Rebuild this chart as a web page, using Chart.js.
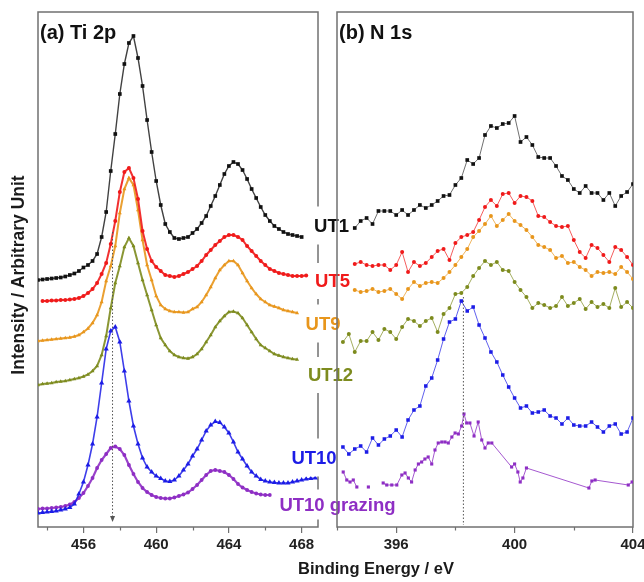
<!DOCTYPE html>
<html>
<head>
<meta charset="utf-8">
<script src="https://cdn.jsdelivr.net/npm/chart.js@4.4.1/dist/chart.umd.min.js"></script>
<style>
  html, body { margin: 0; padding: 0; background: #ffffff; }
  #wrap { position: relative; width: 644px; height: 582px; }
  #wrap canvas { position: absolute; left: 0; top: 0; }
</style>
</head>
<body>
<div id="wrap">
  <canvas id="tiPanel" width="644" height="582"></canvas>
  <canvas id="nPanel" width="644" height="582"></canvas>
</div>
<script>
// ---- Sample names and colours ----
const SAMPLES = ['UT1', 'UT5', 'UT9', 'UT12', 'UT10', 'UT10 grazing'];
const COLORS  = ['#111111', '#f01a1a', '#e8961c', '#7d8b1e', '#1c1ce6', '#8e2ec4'];

// ---- Ti 2p spectra (binding energy in eV, intensity in arbitrary units, offset per sample) ----
const TI_E = [453.5,453.75,454,454.25,454.5,454.75,455,455.25,455.5,455.75,
  456,456.25,456.5,456.75,457,457.25,457.5,457.75,458,458.25,
  458.5,458.75,459,459.25,459.5,459.75,460,460.25,460.5,460.75,
  461,461.25,461.5,461.75,462,462.25,462.5,462.75,463,463.25,
  463.5,463.75,464,464.25,464.5,464.75,465,465.25,465.5,465.75,
  466,466.25,466.5,466.75,467,467.25,467.5,467.75,468,468.25,
  468.5,468.75];

const TI_UT1 = [49.4,49.5,49.6,49.7,49.8,49.9,50.1,50.4,50.7,51.2,
  51.9,52.4,53.2,54.6,58.0,63.0,71.2,78.6,86.6,92.6,
  96.8,98.2,93.8,88.2,81.4,75.0,69.2,64.4,60.6,59.0,
  57.8,57.6,57.8,58.0,58.8,59.6,60.8,62.2,64.2,66.2,
  68.4,70.6,72.2,73.0,72.6,71.4,69.6,67.6,65.8,64.0,
  62.4,61.2,60.2,59.6,59.0,58.6,58.4,58.2,58.0,null,
  null,null];

const TI_UT5 = [null,45.2,45.2,45.3,45.3,45.4,45.4,45.5,45.6,45.8,
  46.2,46.8,47.6,48.8,50.6,52.8,56.6,61.2,67.0,71.0,
  71.8,69.8,65.6,59.2,55.6,53.2,52.0,51.2,50.4,50.2,
  50.0,50.2,50.6,51.0,51.6,52.2,53.2,54.4,55.4,56.4,
  57.2,58.0,58.4,58.4,58.0,57.4,56.2,55.2,54.2,53.2,
  52.4,51.6,51.2,50.8,50.6,50.4,50.2,50.2,50.2,50.3,
  null,null];

const TI_UT9 = [37.2,37.3,37.4,37.5,37.6,37.7,37.8,37.9,38.1,38.4,
  39.0,39.7,40.8,42.4,45.0,49.2,52.2,56.2,62.8,67.6,
  69.8,68.4,63.4,57.4,52.4,49.4,46.2,44.4,43.6,43.2,
  43.0,43.0,42.9,43.0,43.6,44.0,45.0,46.4,48.0,49.8,
  51.4,52.4,53.2,53.2,52.4,50.8,49.2,47.8,46.6,45.6,
  45.0,44.4,44.1,43.8,43.4,43.2,43.0,42.8,null,null,
  null,null];

const TI_UT12 = [28.4,28.6,28.7,28.8,29.0,29.1,29.2,29.4,29.6,29.8,
  30.1,30.5,31.2,32.2,34.4,38.2,43.8,48.8,52.2,56.0,
  57.8,56.2,52.8,49.4,46.4,43.4,40.4,37.8,36.4,35.2,
  34.4,34.0,33.8,33.7,34.0,34.6,35.6,37.0,38.4,40.0,
  41.2,42.2,43.0,43.1,42.8,41.8,40.4,39.0,37.6,36.4,
  35.8,35.2,34.6,34.3,34.0,33.8,33.6,33.5,null,null,
  null,null];

const TI_UT10 = [2.8,2.9,3.0,3.1,3.2,3.4,3.6,3.9,4.6,6.6,
  9.0,12.4,16.6,22.0,28.8,35.6,39.2,40.0,37.0,31.2,
  25.2,20.2,16.6,13.8,12.0,11.0,10.2,9.7,9.2,9.1,
  9.4,10.2,11.4,12.6,14.2,15.6,17.4,19.2,20.4,21.1,
  20.9,20.0,18.8,17.0,15.0,13.6,12.2,11.0,10.2,9.5,
  9.2,9.0,8.9,8.8,8.8,8.8,9.0,9.2,9.4,9.6,
  9.7,9.8];

const TI_UT10G = [3.6,3.7,3.7,3.8,3.9,4.0,4.2,4.5,5.0,5.8,
  6.8,8.2,9.8,11.8,13.4,14.6,15.8,16.1,15.6,14.4,
  12.4,10.6,9.0,7.8,7.0,6.4,6.0,5.8,5.7,5.7,
  5.9,6.2,6.5,6.9,7.6,8.4,9.4,10.4,11.2,11.4,
  11.2,11.0,10.4,9.6,8.6,7.9,7.4,7.0,6.7,6.5,
  6.4,6.4,null,null,null,null,null,null,null,null,
  null,null];

// ---- N 1s spectra ----
const N_E = [394.2,394.4,394.6,394.8,395.0,395.2,395.4,395.6,395.8,396.0,
  396.2,396.4,396.6,396.8,397.0,397.2,397.4,397.6,397.8,398.0,
  398.2,398.4,398.6,398.8,399.0,399.2,399.4,399.6,399.8,400.0,
  400.2,400.4,400.6,400.8,401.0,401.2,401.4,401.6,401.8,402.0,
  402.2,402.4,402.6,402.8,403.0,403.2,403.4,403.6,403.8,404.0];

const N_UT1 = [null,null,59.8,61.2,61.8,60.6,63.2,63.2,63.2,62.4,
  63.4,62.4,63.4,64.4,63.8,64.4,65.2,66.2,66.4,68.4,
  69.8,73.4,72.6,73.8,78.4,80.2,79.8,80.6,80.8,82.2,
  77.0,78.0,76.4,74.0,73.8,73.8,72.2,70.2,69.4,67.6,
  66.8,68.2,66.8,66.8,65.4,66.8,64.2,66.2,67.0,68.6];

const N_UT5 = [null,null,52.6,53.0,52.4,52.2,52.4,52.4,51.4,52.4,
  55.0,51.0,53.0,52.2,52.8,54.0,55.2,55.6,53.4,56.8,
  58.0,58.4,59.0,61.4,64.0,65.4,64.2,66.6,66.8,64.8,
  66.2,66.0,65.2,62.2,62.0,61.0,60.2,60.0,60.2,57.4,
  55.0,53.8,56.4,55.8,54.4,53.0,56.0,55.4,54.0,52.4];

const N_UT9 = [null,null,47.4,47.0,47.2,47.6,47.0,47.2,47.6,46.6,
  45.6,47.6,49.0,48.2,48.8,49.0,48.8,49.8,51.0,52.4,
  54.0,55.6,58.0,59.2,60.6,62.2,60.2,61.4,62.6,61.2,
  60.4,59.4,58.0,56.4,56.0,55.4,53.8,54.2,52.8,53.0,
  52.0,51.4,50.2,51.0,50.8,51.0,50.6,52.0,51.0,49.6];

const N_UT12 = [37.0,38.6,35.0,37.2,37.2,39.0,37.4,39.6,39.0,37.6,
  40.0,41.6,41.2,40.2,41.2,41.8,39.0,42.6,43.8,46.6,
  46.8,48.0,50.2,51.8,53.2,52.4,53.0,51.4,51.2,49.0,
  47.4,46.0,43.8,44.8,44.4,43.8,44.2,46.0,44.2,44.8,
  45.6,43.6,45.0,44.0,44.6,43.8,47.8,44.0,45.0,43.8];

const N_UT10 = [16.0,14.6,15.6,16.2,15.0,17.8,16.4,17.6,18.2,19.4,
  18.0,21.4,23.4,24.2,28.2,29.8,33.4,37.6,41.0,41.6,
  45.2,43.2,44.0,40.4,37.8,35.0,33.0,30.4,28.0,25.8,
  23.8,24.2,22.8,23.0,23.4,22.2,21.8,20.6,21.8,20.4,
  20.2,20.2,21.0,20.0,19.0,20.2,20.6,18.6,19.0,21.8];

// grazing-angle N 1s scan has its own energies (with gaps in the record)
const N_UT10G_E = [394.21,394.33,394.44,394.55,394.67,394.85,395.06,395.3,395.56,395.68,
  395.85,396.02,396.19,396.3,396.41,396.52,396.64,396.75,396.86,396.97,
  397.08,397.2,397.31,397.42,397.54,397.65,397.76,397.88,397.99,398.1,
  398.21,398.29,398.38,398.49,398.63,398.77,398.89,399.0,399.11,399.23,
  399.9,400.0,400.11,400.19,400.28,400.4,402.51,402.61,402.72,403.84,
  403.97];
const N_UT10G = [11.0,9.4,9.0,9.4,8.0,null,8.0,null,8.8,8.4,
  8.4,8.4,10.4,10.8,9.8,9.0,11.4,12.6,13.0,13.6,
  14.0,12.6,15.4,16.8,17.0,17.0,16.8,18.0,18.8,18.6,
  20.2,22.6,20.8,20.8,18.2,21.0,17.4,15.8,16.8,16.8,
  12.0,12.6,11.0,9.0,9.8,11.8,7.8,9.2,9.4,8.4,
  9.0];

// ---- Axis ticks and reference energies ----
const TI_MAJOR = [456, 460, 464, 468];
const TI_MINOR = [454, 458, 462, 466];
const N_MAJOR = [396, 400, 404];
const N_MINOR = [394, 398, 402];
const TI_REF_E = 457.6;     // Ti 2p3/2 position of UT10
const N_REF_E = 398.27;     // N 1s position of UT10

// ---- Styling ----
const FONT = "'Liberation Sans', Arial, sans-serif";
const FRAME = '#707070';
Chart.defaults.font.family = FONT;

function pts(xs, ys) { return xs.map((x, i) => ({ x: x, y: ys[i] })); }
function fade(hex, a) {
  const n = parseInt(hex.slice(1), 16);
  return 'rgba(' + (n >> 16) + ',' + ((n >> 8) & 255) + ',' + (n & 255) + ',' + a + ')';
}
function series(xs, ys, idx, style, radius, lineWidth, lineAlpha) {
  return {
    label: SAMPLES[idx],
    data: pts(xs, ys),
    borderColor: fade(COLORS[idx], lineAlpha),
    borderWidth: lineWidth,
    backgroundColor: COLORS[idx],
    pointStyle: style,
    pointRadius: radius,
    pointBorderWidth: 0,
    pointBackgroundColor: COLORS[idx],
    tension: 0,
    spanGaps: false
  };
}

// the Ti 2p scans are densely sampled, so their traces read as thicker lines
const tiSets = [
  series(TI_E, TI_UT1, 0, 'rect', 2.6, 1.4, 0.8),
  series(TI_E, TI_UT5, 1, 'circle', 2.0, 2.0, 0.9),
  series(TI_E, TI_UT9, 2, 'triangle', 2.3, 2.0, 0.9),
  series(TI_E, TI_UT12, 3, 'triangle', 2.3, 2.0, 0.9),
  series(TI_E, TI_UT10, 4, 'triangle', 3.0, 1.6, 0.85),
  series(TI_E, TI_UT10G, 5, 'circle', 1.9, 2.2, 0.9)
];
const nSets = [
  series(N_E, N_UT1, 0, 'rect', 2.6, 1, 0.6),
  series(N_E, N_UT5, 1, 'circle', 2.0, 1, 0.7),
  series(N_E, N_UT9, 2, 'circle', 2.0, 1, 0.7),
  series(N_E, N_UT12, 3, 'circle', 2.0, 1, 0.7),
  series(N_E, N_UT10, 4, 'rect', 2.5, 1, 0.7),
  series(N_UT10G_E, N_UT10G, 5, 'rect', 2.2, 1, 0.8)
];

// frame around the plot area plus short minor ticks
function framePlugin(minor) {
  return {
    id: 'panelFrame',
    beforeDatasetsDraw(chart) {
      const { ctx, chartArea: a, scales } = chart;
      ctx.save();
      ctx.strokeStyle = FRAME;
      ctx.lineWidth = 1.5;
      ctx.strokeRect(a.left, a.top, a.right - a.left, a.bottom - a.top);
      ctx.lineWidth = 1.2;
      ctx.beginPath();
      minor.forEach(v => {
        const x = Math.round(scales.x.getPixelForValue(v)) + 0.5;
        ctx.moveTo(x, a.bottom);
        ctx.lineTo(x, a.bottom + 3.5);
      });
      ctx.stroke();
      ctx.restore();
    }
  };
}

// dotted vertical marker at a peak position
function refLinePlugin(energy, vTop, vBottom, arrow) {
  return {
    id: 'refLine',
    afterDatasetsDraw(chart) {
      const { ctx, scales } = chart;
      const x = scales.x.getPixelForValue(energy);
      const y0 = scales.y.getPixelForValue(vTop);
      const y1 = scales.y.getPixelForValue(vBottom);
      ctx.save();
      ctx.strokeStyle = '#555555';
      ctx.lineWidth = 1;
      ctx.setLineDash([1.5, 2]);
      ctx.beginPath();
      ctx.moveTo(x, y0);
      ctx.lineTo(x, y1);
      ctx.stroke();
      if (arrow) {
        ctx.setLineDash([]);
        ctx.fillStyle = '#555555';
        ctx.beginPath();
        ctx.moveTo(x - 2.5, y1 - 5);
        ctx.lineTo(x + 2.5, y1 - 5);
        ctx.lineTo(x, y1 + 1);
        ctx.closePath();
        ctx.fill();
      }
      ctx.restore();
    }
  };
}

function titlePlugin(text) {
  return {
    id: 'panelTitle',
    afterDraw(chart) {
      const { ctx, chartArea: a } = chart;
      ctx.save();
      ctx.font = 'bold 20px ' + FONT;
      ctx.fillStyle = '#111111';
      ctx.textBaseline = 'middle';
      ctx.textAlign = 'left';
      ctx.fillText(text, a.left + 2, a.top + 21);
      ctx.restore();
    }
  };
}

// sample names between the two panels, on white so the frames break around them
const SAMPLE_LABELS = [
  { cx: 331.5, v: 60.3, half: 19 },
  { cx: 332.5, v: 49.2, half: 18 },
  { cx: 323,   v: 40.7, half: 19 },
  { cx: 330.5, v: 30.4, half: 18 },
  { cx: 314,   v: 13.9, half: 19 },
  { cx: 337.5, v: 4.5,  half: 15 }
];
const sampleLabelPlugin = {
  id: 'sampleLabels',
  beforeDatasetsDraw(chart) {
    const { ctx, scales } = chart;
    ctx.save();
    ctx.font = 'bold 18.5px ' + FONT;
    ctx.textBaseline = 'middle';
    ctx.textAlign = 'center';
    SAMPLE_LABELS.forEach((p, i) => {
      const y = scales.y.getPixelForValue(p.v);
      const w = ctx.measureText(SAMPLES[i]).width;
      const l = Math.min(p.cx - w / 2 - 2, 314);
      const r = Math.max(p.cx + w / 2 + 1, 339.5);
      ctx.fillStyle = '#ffffff';
      ctx.fillRect(l, y - p.half, r - l, 2 * p.half);
      ctx.fillStyle = COLORS[i];
      ctx.fillText(SAMPLES[i], p.cx, y + 1);
    });
    ctx.restore();
  },
  afterDraw(chart) {
    const { ctx } = chart;
    ctx.save();
    ctx.fillStyle = '#1a1a1a';
    ctx.textBaseline = 'middle';
    ctx.textAlign = 'center';
    ctx.font = 'bold 16.5px ' + FONT;
    ctx.fillText('Binding Energy / eV', 376, 569);
    ctx.translate(19, 275);
    ctx.rotate(-Math.PI / 2);
    ctx.font = 'bold 17.5px ' + FONT;
    ctx.fillText('Intensity / Arbitrary Unit', 0, 0);
    ctx.restore();
  }
};

function makePanel(id, xMin, xMax, major, minor, datasets, padLeft, padRight, plugins) {
  return new Chart(document.getElementById(id), {
    type: 'line',
    data: { datasets: datasets },
    options: {
      responsive: false,
      animation: false,
      devicePixelRatio: 1,
      layout: { padding: { left: padLeft, right: padRight, top: 12, bottom: 0 } },
      plugins: { legend: { display: false }, tooltip: { enabled: false } },
      scales: {
        x: {
          type: 'linear',
          min: xMin,
          max: xMax,
          afterBuildTicks: s => { s.ticks = major.map(v => ({ value: v })); },
          afterFit: s => { s.height = 55; s.paddingLeft = 0; s.paddingRight = 0; },
          border: { display: false },
          grid: { display: true, drawOnChartArea: false, drawTicks: true, tickLength: 6, color: FRAME, lineWidth: 1.2 },
          ticks: {
            autoSkip: false, maxRotation: 0, padding: 3, color: '#222222',
            font: { family: FONT, size: 15, weight: 'bold' },
            callback: v => String(v)
          }
        },
        y: { display: false, min: 0, max: 103 }
      }
    },
    plugins: plugins
  });
}

makePanel('tiPanel', 453.5, 468.9, TI_MAJOR, TI_MINOR, tiSets, 38, 326,
  [framePlugin(TI_MINOR), refLinePlugin(TI_REF_E, 59, 1.2, true), titlePlugin('(a) Ti 2p')]);
makePanel('nPanel', 394, 404, N_MAJOR, N_MINOR, nSets, 337, 11,
  [sampleLabelPlugin, framePlugin(N_MINOR), refLinePlugin(N_REF_E, 46, 0.4, false), titlePlugin('(b) N 1s')]);
</script>
</body>
</html>
